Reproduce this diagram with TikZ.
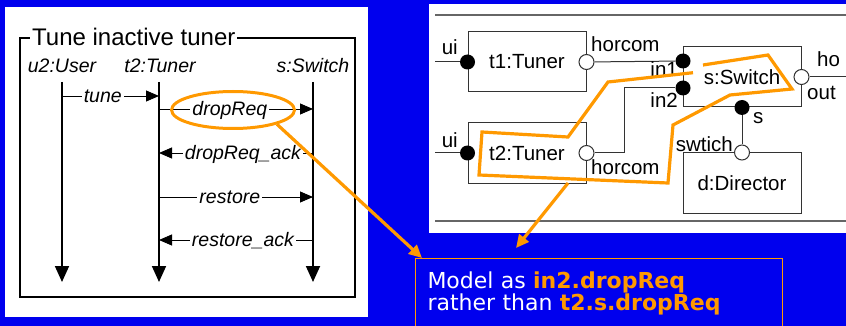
\documentclass[tikz,border=0pt]{standalone}
\usepackage{fontspec}
\setmainfont{Liberation Sans}
\newfontfamily\notefont{DejaVu Sans}
\usetikzlibrary{arrows.meta,shapes.geometric}
\definecolor{slideblue}{RGB}{0,0,238}
\definecolor{hilite}{RGB}{255,153,0}
\tikzset{
  life/.style={line width=1.8pt, -{Triangle[length=16pt,width=14pt]}},
  msg/.style={line width=0.9pt, -{Triangle[length=13pt,width=11pt]}},
  msglbl/.style={fill=white, inner xsep=2pt, inner ysep=1pt, anchor=base, yshift=-6.5pt,
    font=\fontsize{19.5}{20}\selectfont\itshape},
  head/.style={anchor=base, font=\fontsize{19.5}{20}\selectfont\itshape},
  part/.style={draw=black!80, line width=1pt, minimum width=118pt, minimum height=60pt,
    font=\fontsize{20.5}{21}\selectfont},
  inport/.style={circle, fill=black, minimum size=15pt, inner sep=0pt},
  outport/.style={circle, draw=black!80, fill=white, line width=1pt, minimum size=15pt, inner sep=0pt},
  portlbl/.style={inner sep=0pt, font=\fontsize{20.5}{21}\selectfont},
  wire/.style={black!80, line width=1pt},
  pointer/.style={hilite, line width=3.2pt, -{Triangle[length=13pt,width=12pt]}},
}
\begin{document}
\begin{tikzpicture}[x=1pt, y=-1pt]
    \useasboundingbox (0,0) rectangle (846,326);
    \fill[slideblue] (0,0) rectangle (846,326);
    \fill[white] (5,7) rectangle (368,317);
    \fill[white] (429,4) rectangle (846,233);
    % sequence diagram
    \draw[line width=1.6pt] (20,38) rectangle (355,297);
    \node[fill=white, anchor=base west, inner xsep=2pt, inner ysep=1pt,
      font=\fontsize{24}{25}\selectfont] (title) at (30,46) {Tune inactive tuner};
    \node[head] (u2) at (62,73) {u2:User};
    \node[head] (t2) at (160,73) {t2:Tuner};
    \node[head] (s) at (313,73) {s:Switch};
    \coordinate (u2top) at (62,82);
    \coordinate (t2top) at (159,82);
    \coordinate (stop) at (313,82);
    \draw[life] (u2top) -- ++(0,200);
    \draw[life] (t2top) -- ++(0,200);
    \draw[life] (stop) -- ++(0,200);
    \draw[msg] (u2top |- 0,96) -- node[msglbl, pos=0.42] {tune} (t2top |- 0,96);
    \draw[msg] (t2top |- 0,109) -- node[msglbl, pos=0.46] (dropreq) {dropReq} (stop |- 0,109);
    \draw[msg] (stop |- 0,153) -- node[msglbl, pos=0.455] {dropReq\_ack} (t2top |- 0,153);
    \draw[msg] (t2top |- 0,197) -- node[msglbl, pos=0.46] {restore} (stop |- 0,197);
    \draw[msg] (stop |- 0,240) -- node[msglbl, pos=0.455] {restore\_ack} (t2top |- 0,240);
    \node[ellipse, draw=hilite, line width=3pt, minimum width=123pt, minimum height=37pt] (oval) at (233,110) {};
    % composite structure
    \draw[black!60, line width=1.2pt] (435,15) -- (846,15);
    \draw[black!60, line width=1.2pt] (435,221) -- (846,221);
    \node[part] (tuner1) at (527,62) {t1:Tuner};
    \node[part] (tuner2) at (527,153) {t2:Tuner};
    \node[part] (switch) at (742,77) {};
    \node[part] (director) at (742,183) {d:Director};
    \node[inport] (t1ui) at (tuner1.west) {};
    \node[outport] (t1hc) at (tuner1.east) {};
    \node[inport] (t2ui) at (tuner2.west) {};
    \node[outport] (t2hc) at (tuner2.east) {};
    \node[inport] (in1) at (683,61) {};
    \node[inport] (in2) at (683,88) {};
    \node[outport] (out) at (switch.east) {};
    \node[inport] (sport) at (switch.south) {};
    \node[outport] (swtich) at (director.north) {};
    \draw[wire] (t1ui) -- ++(-33,0);
    \draw[wire] (t2ui) -- ++(-33,0);
    \draw[wire] (t1hc) -- (in1);
    \draw[wire] (t2hc) -- ++(38,0) |- (in2);
    \draw[wire] (out) -- ++(45,0);
    \draw[wire] (sport) -- (swtich);
    \node[portlbl, anchor=base east] at (458,55) {ui};
    \node[portlbl, anchor=base east] at (458,147) {ui};
    \node[portlbl, anchor=base west] at (591,52) {horcom};
    \node[portlbl, anchor=base west] at (591,175) {horcom};
    \node[portlbl, anchor=base east] at (678,77) {in1};
    \node[portlbl, anchor=base east] at (678,108) {in2};
    \node[portlbl, anchor=base west] at (817,67) {ho};
    \node[portlbl, anchor=base west] at (807,100) {out};
    \node[portlbl, anchor=base west] at (753,124) {s};
    \node[portlbl, anchor=base east] at (733,152) {swtich};
    \draw[hilite, line width=3.2pt, line join=miter] (703,65) -- (768,55) -- (792,89) -- (730,95)
      -- (673,125) -- (668,183) -- (479,175) -- (482,132) -- (568,137) -- (608,82) -- (693,72.7);
    \node[font=\fontsize{20.5}{21}\selectfont] (swlbl) at (switch) {s:Switch};
    % note
    \node[draw=hilite, line width=1pt, anchor=north west, text width=343pt, inner xsep=12pt,
      inner ysep=13pt, align=left, text=white, font=\notefont\fontsize{22}{22}\selectfont] (note) at (415,258)
      {Model as \textcolor{hilite}{\bfseries in2.dropReq}\\rather than \textcolor{hilite}{\bfseries t2.s.dropReq}};
    \coordinate (grab) at (568,183);
    \coordinate (tipB) at (516,248);
    \draw[pointer] (oval.-18) -- ([xshift=7pt]note.north west);
    \draw[pointer] (grab) -- (tipB);
\end{tikzpicture}
\end{document}
